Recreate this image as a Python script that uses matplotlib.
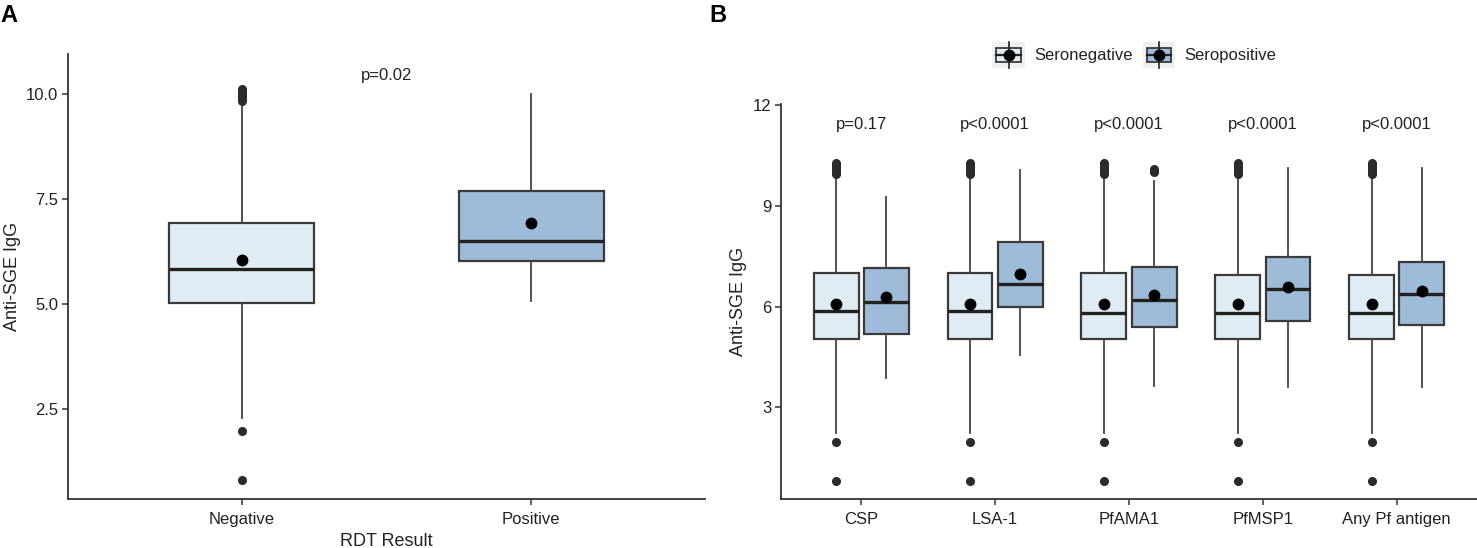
import matplotlib
matplotlib.use("Agg")
import matplotlib.pyplot as plt
from matplotlib.patches import Rectangle, Patch
from matplotlib.lines import Line2D
from matplotlib.legend_handler import HandlerBase

plt.rcParams['font.family'] = ['Liberation Sans', 'DejaVu Sans']

# ---------------- data: panel A ----------------
rdt_cats = ['Negative', 'Positive']
rdt_q1 = [5.03, 6.03]
rdt_med = [5.83, 6.50]
rdt_q3 = [6.94, 7.70]
rdt_wlo = [2.29, 5.08]
rdt_whi = [9.80, 10.00]
rdt_mean = [6.05, 6.94]
rdt_fliers = [[0.80, 1.97, 9.84, 9.88, 9.92, 9.96, 10.00, 10.04, 10.08, 10.13], []]
rdt_pval = 'p=0.02'

# ---------------- data: panel B ----------------
antigens = ['CSP', 'LSA-1', 'PfAMA1', 'PfMSP1', 'Any Pf antigen']
groups = ['Seronegative', 'Seropositive']
neg_q1 = [5.03, 5.03, 5.03, 5.03, 5.03]
neg_med = [5.86, 5.86, 5.81, 5.81, 5.81]
neg_q3 = [6.99, 6.99, 6.99, 6.94, 6.94]
neg_wlo = [2.25, 2.25, 2.25, 2.25, 2.25]
neg_whi = [9.92, 9.92, 9.92, 9.92, 9.92]
neg_mean = [6.07, 6.07, 6.07, 6.07, 6.07]
neg_flier_vals = [0.81, 1.98, 9.96, 10.00, 10.04, 10.08, 10.12, 10.16, 10.20, 10.26]
neg_fliers = [neg_flier_vals, neg_flier_vals, neg_flier_vals, neg_flier_vals, neg_flier_vals]
pos_q1 = [5.18, 6.00, 5.39, 5.58, 5.44]
pos_med = [6.15, 6.66, 6.20, 6.51, 6.36]
pos_q3 = [7.16, 7.93, 7.19, 7.49, 7.34]
pos_wlo = [3.88, 4.56, 3.64, 3.60, 3.60]
pos_whi = [9.26, 10.07, 9.73, 10.11, 10.11]
pos_mean = [6.28, 6.97, 6.33, 6.59, 6.45]
pos_fliers = [[], [], [10.00, 10.05, 10.10], [], []]
pvals = ['p=0.17', 'p<0.0001', 'p<0.0001', 'p<0.0001', 'p<0.0001']

LIGHT = '#e0ecf4'
DARK = '#9ebcda'
EDGE = '#3a3a3a'
TXT = '#222222'

def make_stats(q1, med, q3, wlo, whi, mean, fliers):
    return [dict(q1=a, med=b, q3=c, whislo=d, whishi=e, mean=f, fliers=g)
            for a, b, c, d, e, f, g in zip(q1, med, q3, wlo, whi, mean, fliers)]

def draw(ax, stats, positions, width, color):
    ax.bxp(stats, positions=positions, widths=width, patch_artist=True,
           showmeans=True, showcaps=False,
           boxprops=dict(facecolor=color, edgecolor=EDGE, linewidth=1.6),
           medianprops=dict(color='#222222', linewidth=2.4),
           whiskerprops=dict(color='#444444', linewidth=1.3),
           flierprops=dict(marker='o', markerfacecolor='#2b2b2b', markeredgecolor='#2b2b2b',
                           markersize=5.5),
           meanprops=dict(marker='o', markerfacecolor='black', markeredgecolor='black',
                          markersize=7.5),
           manage_ticks=False)

def style(ax):
    for s in ['top', 'right']:
        ax.spines[s].set_visible(False)
    for s in ['left', 'bottom']:
        ax.spines[s].set_color('#333333')
        ax.spines[s].set_linewidth(1.3)
    ax.tick_params(axis='both', length=4.5, width=1.1, color='#333333',
                   labelsize=12, labelcolor=TXT, pad=2.5)
    ax.tick_params(axis='x', pad=5)

fig = plt.figure(figsize=(14.77, 5.48), dpi=100)

# ---------------- panel A ----------------
axA = fig.add_axes([68/1477, 1 - 499/548, 637/1477, 445/548])
posA = list(range(1, len(rdt_cats) + 1))
statsA = make_stats(rdt_q1, rdt_med, rdt_q3, rdt_wlo, rdt_whi, rdt_mean, rdt_fliers)
draw(axA, statsA[:1], posA[:1], 0.5, LIGHT)
draw(axA, statsA[1:], posA[1:], 0.5, DARK)
axA.set_xlim(0.4, 2.6)
axA.set_ylim(0.355, 10.96)
axA.set_yticks([2.5, 5.0, 7.5, 10.0])
axA.set_yticklabels(['2.5', '5.0', '7.5', '10.0'])
axA.set_xticks(posA)
axA.set_xticklabels(rdt_cats)
style(axA)
axA.set_xlabel('RDT Result', fontsize=13, color=TXT, labelpad=4)
axA.set_ylabel('Anti-SGE IgG', fontsize=13, color=TXT)
axA.yaxis.set_label_coords(-0.074, 0.5)
axA.text(1.5, 10.44, rdt_pval, ha='center', va='center', fontsize=12, color=TXT)

# ---------------- panel B ----------------
axB = fig.add_axes([781/1477, 1 - 498.7/548, 696/1477, 394.7/548])
posB = list(range(1, len(antigens) + 1))
off = 0.1875
draw(axB, make_stats(neg_q1, neg_med, neg_q3, neg_wlo, neg_whi, neg_mean, neg_fliers),
     [p - off for p in posB], 0.335, LIGHT)
draw(axB, make_stats(pos_q1, pos_med, pos_q3, pos_wlo, pos_whi, pos_mean, pos_fliers),
     [p + off for p in posB], 0.335, DARK)
axB.set_xlim(0.4, len(antigens) + 0.6)
axB.set_ylim(0.28, 12.03)
axB.set_yticks([3, 6, 9, 12])
axB.set_xticks(posB)
axB.set_xticklabels(antigens)
style(axB)
axB.set_ylabel('Anti-SGE IgG', fontsize=13, color=TXT)
axB.yaxis.set_label_coords(-0.049, 0.5)
for p, t in zip(posB, pvals):
    axB.text(p, 11.41, t, ha='center', va='center', fontsize=12, color=TXT)

# ---------------- legend ----------------
class BoxKey(HandlerBase):
    def __init__(self, fc):
        super().__init__()
        self.fc = fc

    def create_artists(self, legend, orig_handle, xdescent, ydescent, width, height,
                       fontsize, trans):
        x0, y0, w, h = -xdescent, -ydescent, width, height
        bg = Rectangle((x0, y0), w, h, facecolor='#f0f0f0', edgecolor='none', transform=trans)
        box = Rectangle((x0 + 0.12 * w, y0 + 0.23 * h), 0.76 * w, 0.53 * h,
                        facecolor=self.fc, edgecolor=EDGE, linewidth=1.3, transform=trans)
        vl = Line2D([x0 + w / 2] * 2, [y0, y0 + h], color='#222222', linewidth=1.2,
                    transform=trans)
        ml = Line2D([x0 + 0.12 * w, x0 + 0.88 * w], [y0 + 0.49 * h] * 2, color='#222222',
                    linewidth=1.6, transform=trans)
        dot = Line2D([x0 + w / 2], [y0 + 0.49 * h], marker='o', markersize=7.5,
                     color='black', linestyle='none', transform=trans)
        return [bg, box, vl, ml, dot]

h_neg = Patch(facecolor=LIGHT)
h_pos = Patch(facecolor=DARK)
fig.legend([h_neg, h_pos], groups, loc='center', bbox_to_anchor=(0.768, 0.8996),
           ncol=2, frameon=False, fontsize=12, handlelength=1.95, handleheight=2.1,
           handletextpad=0.55, columnspacing=0.6, labelcolor=TXT,
           handler_map={h_neg: BoxKey(LIGHT), h_pos: BoxKey(DARK)})

fig.text(0.0, 1 - 16/548, 'A', fontsize=17, fontweight='bold', va='center', ha='left')
fig.text(709/1477, 1 - 16/548, 'B', fontsize=17, fontweight='bold', va='center', ha='left')

fig.savefig('out.png', dpi=100)
